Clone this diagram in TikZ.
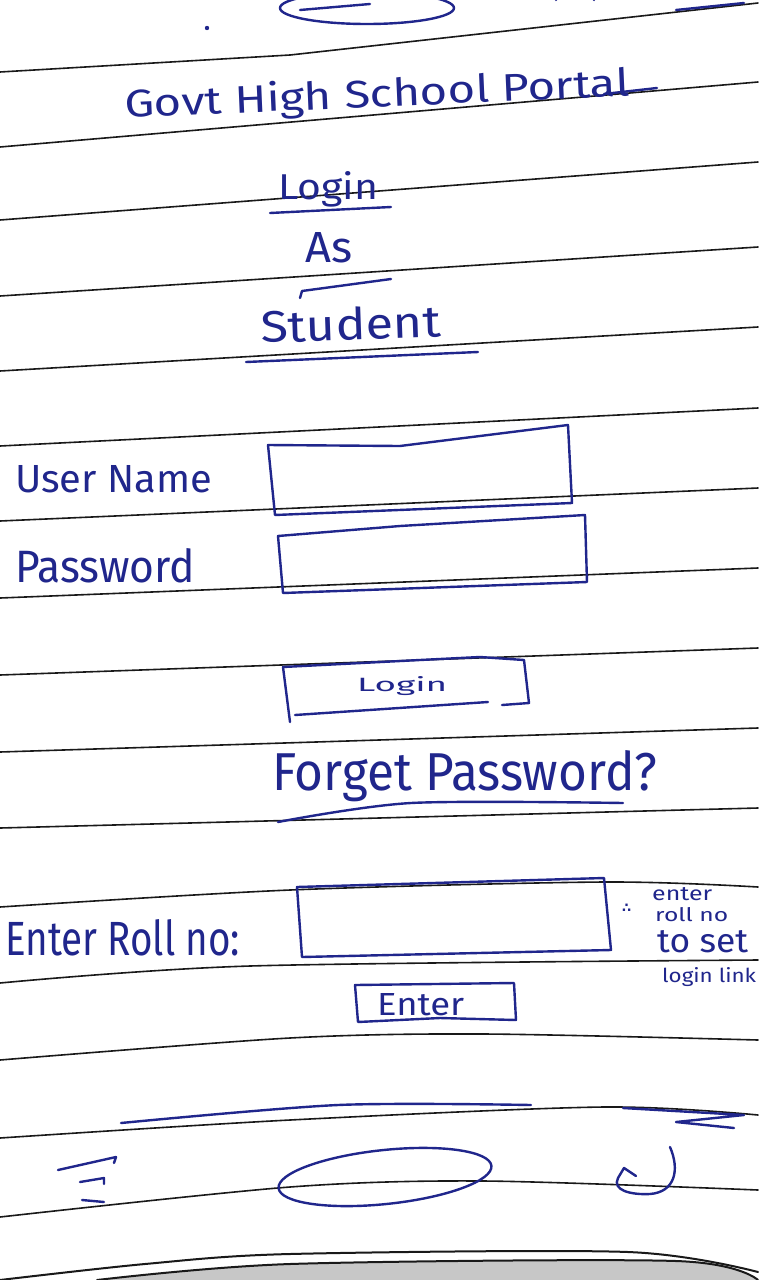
\documentclass[tikz,border=0pt]{standalone}
\usepackage{fontspec}
\usepackage{graphicx}
\setmainfont{Fira Sans}
\newfontfamily\symfont{DejaVu Sans}
\definecolor{ink}{RGB}{32,38,140}
\definecolor{rulecol}{RGB}{25,25,25}
\tikzset{
  paperline/.style={draw=rulecol, line width=1.6pt, line cap=round},
  pen/.style={draw=ink, line width=2.4pt, line cap=round, line join=round},
  hand/.style={inner sep=0pt, anchor=base west, text=ink},
}
\newcommand{\hw}[3]{\resizebox{#1pt}{#2pt}{#3}}
\begin{document}
\begin{tikzpicture}[x=1pt,y=-1pt]
\fill[white] (0,0) rectangle (758,1280);
\useasboundingbox (0,0) rectangle (758,1280);

% ruled paper lines
\draw[paperline] (0,72) -- (290,55) -- (758,3);
\draw[paperline] (0,147) -- (758,82);
\draw[paperline] (0,220) -- (758,162);
\draw[paperline] (0,296) -- (758,247);
\draw[paperline] (0,371) -- (758,327);
\draw[paperline] (0,446) -- (758,408);
\draw[paperline] (0,521) -- (758,488);
\draw[paperline] (0,598) -- (758,568);
\draw[paperline] (0,675) -- (758,648);
\draw[paperline] (0,752) -- (758,728);
\draw[paperline] (0,828) -- (758,808);
\draw[paperline] plot[smooth] coordinates {(0,907) (290,890) (604,882) (758,887)};
\draw[paperline] plot[smooth] coordinates {(0,983) (250,966) (758,960)};
\draw[paperline] plot[smooth] coordinates {(0,1060) (290,1038) (483,1034) (758,1040)};
\draw[paperline] plot[smooth] coordinates {(0,1138) (290,1120) (604,1107) (758,1115)};
\draw[paperline] plot[smooth] coordinates {(0,1217) (290,1187) (483,1181) (758,1190)};

% phone bottom edge
\fill[black!22] plot[smooth] coordinates {(97,1280) (290,1264) (676,1261) (758,1280)} -- cycle;
\draw[paperline, line width=2pt] plot[smooth] coordinates {(0,1280) (145,1264) (290,1254) (628,1252) (758,1272)};
\draw[paperline, line width=2pt] plot[smooth] coordinates {(97,1280) (290,1264) (676,1261) (758,1280)};

% top phone bar
\draw[pen] (367,8) ellipse [x radius=87, y radius=16];
\draw[pen] (300,10) -- (370,4);
\fill[ink] (207,28) circle (2.2pt);
\draw[pen] (556,0) arc[start angle=180, end angle=360, x radius=19, y radius=12];
\draw[pen] (676,10) -- (744,3);

% title
\node[hand, rotate=2.5] (title) at (125,118) {\hw{505}{30}{Govt High School Portal}};
\draw[pen] (604,94) -- (657,88);

% Login As Student
\node[hand] (loginhead) at (278,199) {\hw{100}{28}{Login}};
\draw[pen] (270,213) -- (391,207);
\node[hand] (as) at (305,262) {\hw{47}{30}{As}};
\draw[pen] (300,298) -- (302,291) -- (391,279);
\node[hand, rotate=2] (student) at (261,343) {\hw{180}{33}{Student}};
\draw[pen] (246,362) -- (478,352);

% user name / password
\node[hand] (user) at (15,492) {\hw{197}{27}{User Name}};
\draw[pen] (268,445) -- (400,446) -- (568,425) -- (572,503) -- (275,515) -- cycle;
\node[hand] (pass) at (15,582) {\hw{180}{34}{Password}};
\draw[pen] (278,536) -- (400,526) -- (585,515) -- (587,582) -- (283,593) -- cycle;

% login button
\draw[pen] (290,722) -- (283,667) -- (420,660) -- (480,657) -- (524,660) -- (529,703) -- (502,705);
\draw[pen] (295,715) -- (488,702);
\node[hand] (logintxt) at (357,691) {\hw{90}{15}{Login}};

% forget password
\node[hand] (forget) at (272,790) {\hw{385}{40}{Forget Password?}};
\draw[pen] plot[smooth] coordinates {(278,822) (411,803) (623,803)};

% roll no
\node[hand] (roll) at (5,955) {\hw{235}{36}{Enter Roll no:}};
\draw[pen] (297,887) -- (604,878) -- (611,950) -- (302,957) -- cycle;
\draw[pen] (355,985) -- (514,983) -- (516,1020) -- (440,1018) -- (358,1022) -- cycle;
\node[hand] (entertxt) at (377,1015) {\hw{87}{22}{Enter}};

% side note
\node[hand, font=\symfont\fontsize{13}{13}\selectfont\bfseries] (th) at (622,912) {∴};
\node[hand] (n1) at (652,900) {\hw{60}{13}{enter}};
\node[hand] (n2) at (655,921) {\hw{73}{14}{roll no}};
\node[hand] (n3) at (657,952) {\hw{91}{22}{to set}};
\node[hand] (n4) at (662,982) {\hw{94}{15}{login link}};

% bottom nav bar
\draw[pen] plot[smooth] coordinates {(121,1123) (338,1105) (531,1105)};
\draw[pen] (623,1108) -- (744,1115) -- (676,1122) -- (734,1128);
\draw[pen] (58,1170) -- (116,1157) -- (114,1163);
\draw[pen] (80,1182) -- (104,1178) -- (104,1184);
\draw[pen] (82,1200) -- (104,1202);
\draw[pen, rotate around={6:(385,1177)}] (385,1177) ellipse [x radius=107, y radius=27];
\draw[pen] (670,1147) .. controls (680,1170) and (675,1192) .. (650,1194) .. controls (630,1195) and (612,1190) .. (618,1178) -- (624,1168) -- (636,1176);
\end{tikzpicture}
\end{document}
